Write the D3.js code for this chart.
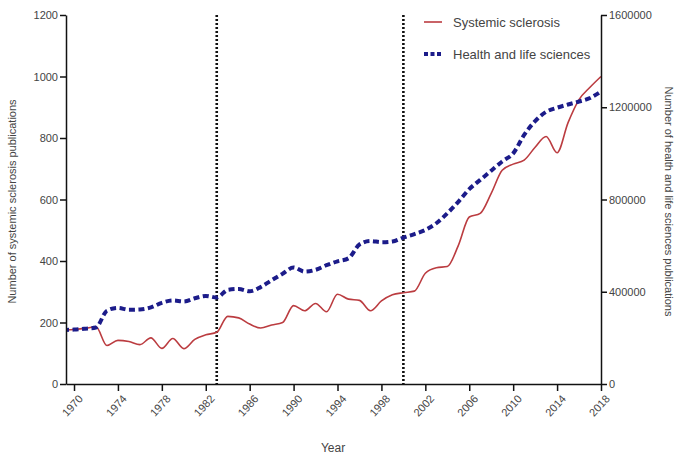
<!DOCTYPE html>
<html>
<head>
<meta charset="utf-8">
<script src="https://cdn.jsdelivr.net/npm/d3@7"></script>
<style>
  html, body { margin: 0; padding: 0; background: #fff; }
  svg { display: block; font-family: "Liberation Sans", Arial, sans-serif; }
  .axis path, .axis line { stroke: #111; stroke-width: 1.5; }
  .axis text { fill: #444; font-size: 11px; font-family: "Liberation Sans", Arial, sans-serif; }
</style>
</head>
<body>
<svg id="chart" width="680" height="457"></svg>
<script>
// Publication counts per year
const years = d3.range(1969, 2019);
const sscValues = [
  176, 177, 181, 186, 125, 142, 138, 128, 150, 116,
  148, 115, 145, 160, 168, 220, 215, 195, 182, 192,
  200, 255, 238, 262, 235, 292, 276, 272, 238, 270,
  290, 297, 302, 360, 378, 382, 450, 543, 555, 620,
  695, 715, 728, 770, 805, 752, 850, 925, 965, 1000
];
const healthValues = [
  234000, 236000, 240000, 245000, 318000, 330000, 322000, 323000, 332000, 352000,
  362000, 358000, 372000, 382000, 375000, 408000, 412000, 402000, 420000, 450000,
  478000, 505000, 487000, 495000, 515000, 532000, 545000, 605000, 620000, 615000,
  618000, 635000, 650000, 668000, 697000, 740000, 790000, 845000, 885000, 925000,
  965000, 1000000, 1080000, 1140000, 1180000, 1198000, 1212000, 1225000, 1240000, 1268000
];
const xTicks = d3.range(1970, 2019, 4);
const leftTicks = [0, 200, 400, 600, 800, 1000, 1200];
const rightTicks = [0, 400000, 800000, 1200000, 1600000];
const markerYears = [1983, 2000];
const seriesNames = ["Systemic sclerosis", "Health and life sciences"];

const svg = d3.select("#chart");
const plotL = 66, plotR = 601, plotT = 15, plotB = 384;

const x = d3.scaleLinear().domain([1969.27, 2018]).range([plotL, plotR]);
const yL = d3.scaleLinear().domain([0, 1200]).range([plotB, plotT]);
const yR = d3.scaleLinear().domain([0, 1600000]).range([plotB, plotT]);

svg.append("defs").append("clipPath").attr("id", "plot")
  .append("rect").attr("x", plotL).attr("y", 0)
  .attr("width", plotR - plotL).attr("height", plotB);

// Reference lines
svg.append("g").selectAll("line").data(markerYears).join("line")
  .attr("x1", d => x(d)).attr("x2", d => x(d))
  .attr("y1", plotT).attr("y2", plotB)
  .attr("stroke", "#111").attr("stroke-width", 2.6)
  .attr("stroke-dasharray", "2,2");

const plot = svg.append("g").attr("clip-path", "url(#plot)");

const lineL = d3.line().x((d, i) => x(years[i])).y(d => yL(d)).curve(d3.curveMonotoneX);
const lineR = d3.line().x((d, i) => x(years[i])).y(d => yR(d)).curve(d3.curveMonotoneX);

plot.append("path").datum(sscValues)
  .attr("d", lineL).attr("fill", "none")
  .attr("stroke", "#bb3c40").attr("stroke-width", 1.6);

plot.append("path").datum(healthValues)
  .attr("d", lineR).attr("fill", "none")
  .attr("stroke", "#1c1c8a").attr("stroke-width", 4)
  .attr("stroke-dasharray", "6,3.5");

// Axes
const gx = svg.append("g").attr("class", "axis")
  .attr("transform", `translate(0,${plotB})`)
  .call(d3.axisBottom(x).tickValues(xTicks).tickFormat(d3.format("d")).tickSize(7).tickSizeOuter(0));
gx.selectAll("text")
  .attr("text-anchor", "end")
  .attr("transform", "translate(3,7) rotate(-48)")
  .attr("dy", "0.35em").attr("y", 6).attr("x", -2);

svg.append("g").attr("class", "axis")
  .attr("transform", `translate(${plotL},0)`)
  .call(d3.axisLeft(yL).tickValues(leftTicks).tickFormat(d3.format("d")).tickSize(6).tickPadding(2).tickSizeOuter(0));

svg.append("g").attr("class", "axis")
  .attr("transform", `translate(${plotR},0)`)
  .call(d3.axisRight(yR).tickValues(rightTicks).tickFormat(d3.format("d")).tickSize(6).tickPadding(2).tickSizeOuter(0));

// Axis titles
svg.append("text").attr("transform", `translate(16,${(plotT + plotB) / 2 + 2}) rotate(-90)`)
  .attr("text-anchor", "middle").attr("font-size", 11).attr("fill", "#444")
  .text("Number of systemic sclerosis publications");
svg.append("text").attr("transform", `translate(665,${(plotT + plotB) / 2 + 2}) rotate(90)`)
  .attr("text-anchor", "middle").attr("font-size", 11).attr("fill", "#444")
  .text("Number of health and life sciences publications");
svg.append("text").attr("x", 333).attr("y", 452)
  .attr("text-anchor", "middle").attr("font-size", 12).attr("fill", "#444")
  .text("Year");

// Legend
const legend = svg.append("g");
const lg = legend.selectAll("g").data(seriesNames).join("g")
  .attr("transform", (d, i) => `translate(424,${22 + i * 32})`);
lg.append("line").attr("x1", 0).attr("x2", 18)
  .attr("stroke", (d, i) => i === 0 ? "#bb3c40" : "#1c1c8a")
  .attr("stroke-width", (d, i) => i === 0 ? 1.6 : 4)
  .attr("stroke-dasharray", (d, i) => i === 0 ? null : "4,2.5");
lg.append("text").attr("x", 29).attr("y", 4.5)
  .attr("font-size", 13).attr("fill", "#444").text(d => d);
</script>
</body>
</html>
